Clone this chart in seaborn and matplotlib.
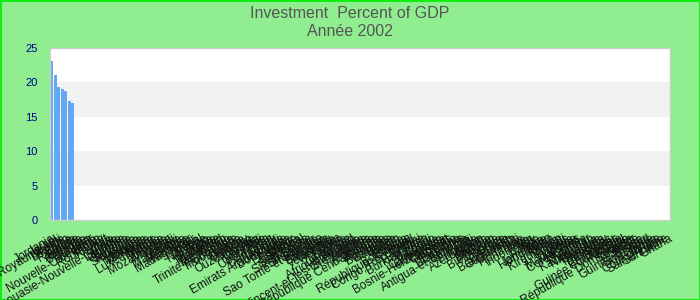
import numpy as np
import pandas as pd
import matplotlib
matplotlib.use("Agg")
import matplotlib.pyplot as plt
import seaborn as sns

countries = [
    "Jordanie", "Israël", "Royaume-Uni", "Islande", "Lesotho", "Chine", "Rwanda", "Algérie",
    "Autriche", "Belgique", "Bahreïn", "Qatar", "Nouvelle-Calédonie", "Oman", "Roumanie", "Koweït",
    "Liban", "Libye", "Papouasie-Nouvelle-Guinée", "Lituanie", "Lettonie", "Estonie", "Slovénie",
    "Slovaquie", "Pologne", "Hongrie", "Moldavie", "Mongolie", "Luxembourg", "Maroc", "Malte",
    "Maurice", "Mozambique", "Malaisie", "Mali", "Malawi", "Mauritanie", "Mexique", "Namibie",
    "Madagascar", "Niger", "Nigeria", "Népal", "Norvège", "Togo", "Turquie", "Tanzanie", "Thaïlande",
    "Tchad", "Tadjikistan", "Trinité-et-Tobago", "Ouganda", "Timor-Leste", "Tunisie", "Ukraine",
    "Uruguay", "Ouzbékistan", "Chypre", "Canada", "Chili", "Colombie", "Costa Rica", "Cuba",
    "Danemark", "Djibouti", "Emirats Arabes Unis", "Dominique", "Egypte", "Equateur", "Erythrée",
    "Samoa", "Sénégal", "Seychelles", "Sierra Leone", "Singapour", "Somalie", "Sao Tomé-et-Principe",
    "Soudan", "Sri Lanka", "Vanuatu", "Venezuela", "Viet Nam", "Yémen", "Zambie", "Zimbabwe",
    "Afrique du Sud", "Albanie", "Allemagne", "Saint-Vincent-et-les-Grenadines", "Andorre", "Angola",
    "Argentine", "République Centrafricaine", "Arménie", "Australie", "Bahamas", "Barbade", "Belize",
    "Bénin", "Bolivie", "Botswana", "République Tchèque", "Brésil", "Congo, Rép. Dém.", "Brunei",
    "Bulgarie", "Burkina Faso", "Burundi", "Congo", "Cambodge", "Cameroun", "Bosnie-Herzégovine",
    "Cap-Vert", "Comores", "Croatie", "Espagne", "Etats-Unis", "Ethiopie", "Antigua-et-Barbuda",
    "Fidji", "Finlande", "France", "Azerbaïdjan", "Gabon", "Gambie", "Bhoutan", "Biélorussie",
    "Géorgie", "Grèce", "Grenade", "Bangladesh", "Guatemala", "Haïti", "Honduras", "Inde",
    "Indonésie", "Iran", "Irak", "Irlande", "Italie", "Jamaïque", "Hong Kong", "Japon", "Kenya",
    "Kirghizistan", "Kiribati", "Laos", "Libéria", "Macédoine", "Maldives", "Corée, Rép.", "Guinée",
    "Myanmar", "Kazakhstan", "Nicaragua", "Pakistan", "Panama", "Paraguay", "Pays-Bas", "Pérou",
    "Philippines", "Guinée équatoriale", "Portugal", "Russie", "République Dominicaine", "Salvador",
    "Suède", "Suisse", "Guinée-Bissau", "Swaziland", "Syrie", "Tonga", "Côte d'Ivoire",
    "Sainte-Lucie", "Suriname", "Ghana",
]
known_values = [23.1, 21.1, 19.4, 19.1, 18.8, 17.3, 17.0]
values = known_values + [np.nan] * (len(countries) - len(known_values))

y_ticks = [0, 5, 10, 15, 20, 25]
title_line1 = "Investment  Percent of GDP"
title_line2 = "Année 2002"

df = pd.DataFrame({"pays": countries, "valeur": values})

sns.set_theme(style="white")
plt.rcParams["font.family"] = ["Liberation Sans", "DejaVu Sans"]

fig = plt.figure(figsize=(7, 3), dpi=100)
fig.patch.set_facecolor("#90EE90")
fig.patch.set_edgecolor("#11EE11")
fig.patch.set_linewidth(2)
ax = fig.add_axes([50 / 700, 1 - 220 / 300, 620 / 700, 172 / 300])
ax.set_facecolor("white")

for lo in (5, 15):
    ax.axhspan(lo, lo + 5, color="#F2F2F2", zorder=0, lw=0)

sns.barplot(data=df, x="pays", y="valeur", order=countries, color="#63A8F2",
            width=0.85, ax=ax, linewidth=0, saturation=1, errorbar=None, zorder=2)

ax.set_ylim(0, 25)
ax.set_xlim(-0.5, len(countries) - 0.5)
ax.set_yticks(y_ticks)
ax.set_yticklabels([str(t) for t in y_ticks], color="#00008B", fontsize=8)
ax.set_xlabel("")
ax.set_ylabel("")
ax.tick_params(axis="both", length=0)
ax.tick_params(axis="y", pad=9)
ax.tick_params(axis="x", pad=9)
for lab in ax.get_xticklabels():
    lab.set_rotation(30)
    lab.set_ha("right")
    lab.set_rotation_mode("anchor")
    lab.set_fontsize(8.5)
    lab.set_color("#111111")
for s in ax.spines.values():
    s.set_color("#CCCCCC")
    s.set_linewidth(1)

fig.text(0.5, 1 - 13 / 300, title_line1, ha="center", va="center", fontsize=11.5, color="#555555")
fig.text(0.5, 1 - 32 / 300, title_line2, ha="center", va="center", fontsize=11.5, color="#555555")

fig.savefig("out.png", dpi=100, facecolor=fig.get_facecolor(), edgecolor=fig.get_edgecolor())
